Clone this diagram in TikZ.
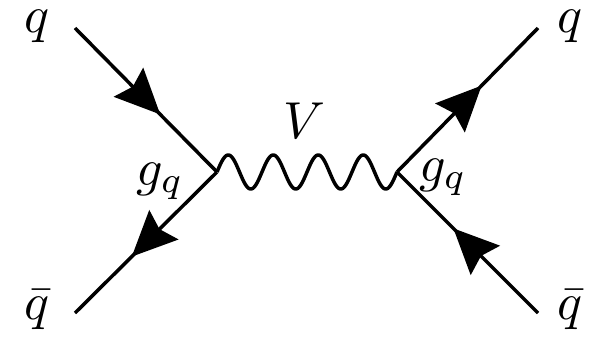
\documentclass[tikz,border=0pt]{standalone}
\usetikzlibrary{arrows.meta,decorations.markings,calc}
\begin{document}
\begin{tikzpicture}[x=1pt,y=-1pt,
  lbl/.style={anchor=base,inner sep=0pt,scale=5.2},
  fermion/.style={draw,line width=3.5pt,postaction={decorate},
    decoration={markings,mark=at position 0.6 with {\arrow{Stealth[length=45pt,width=41pt,inset=6pt]}}}},
  boson/.style={draw,line width=3.5pt,line join=round}]
\useasboundingbox (0,0) rectangle (603,340);
\coordinate (vL) at (217,172);
\coordinate (vR) at (397,172);
\coordinate (qTL) at (75,28);
\coordinate (qBL) at (75,313);
\coordinate (qTR) at (538,28);
\coordinate (qBR) at (538,313);
\node[lbl] (lq1) at (37,32) {$q$};
\node[lbl] (lq2) at (37,319) {$\bar q$};
\node[lbl] (rq1) at (570,32) {$q$};
\node[lbl] (rq2) at (570,319) {$\bar q$};
\node[lbl] (lV) at (304,138) {$V$};
\node[lbl] (gL) at (160,185) {$g_q$};
\node[lbl] (gR) at (443,181) {$g_q$};
\draw[fermion] (qTL) -- (vL);
\draw[fermion] (vL) -- (qBL);
\draw[fermion] (vR) -- (qTR);
\draw[fermion] (qBR) -- (vR);
\draw[boson] (vL) \foreach \i in {1,...,240}{ -- ($(vL)!\i/240!(vR)+(0,{-17*sin(6*\i)})$) };
\end{tikzpicture}
\end{document}
